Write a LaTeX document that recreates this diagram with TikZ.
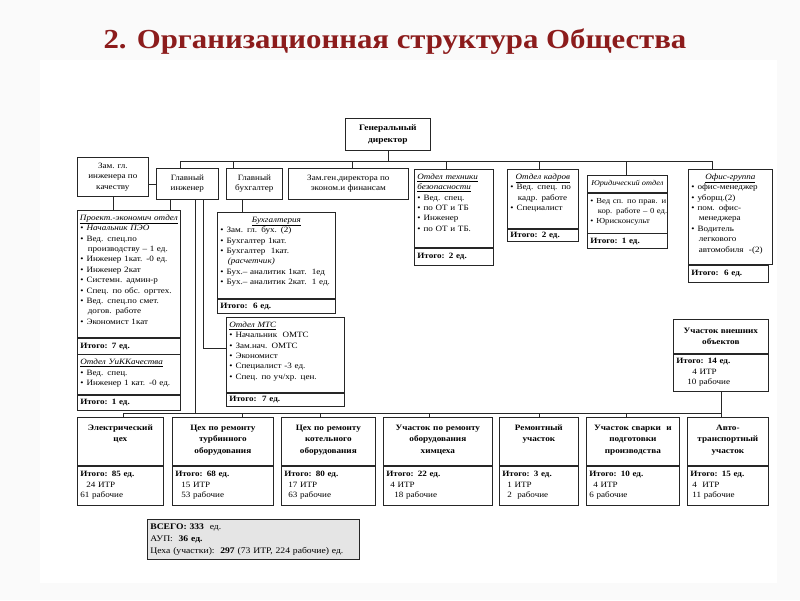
\documentclass[tikz,border=0pt]{standalone}
\usepackage{fontspec}
\setmainfont{Liberation Serif}[FakeStretch=1.12]
\usepackage{tikz}
\definecolor{titlered}{RGB}{140,28,28}
\newcommand{\ttl}[1]{\underline{\textit{#1}}}
\newcommand{\bul}{\textbullet\nobreak\hspace{3pt}}
\newcommand{\nxt}{\hspace*{7.5pt}}
\newcommand{\ctr}[1]{\makebox[\linewidth]{#1}}
\tikzset{
    box/.style={draw=black!85, rectangle, line width=.7pt, anchor=north west,
    	inner xsep=3pt, inner ysep=3pt, font=\fontsize{8.1}{10.4}\selectfont},
    head/.style={box, align=center},
    list/.style={box, align=left, text height=7pt},
    sum/.style={box, align=left, inner ysep=1pt},
    shop/.style={box, align=center, text height=10pt, text depth=32pt,
    	font=\fontsize{8.2}{11.5}\selectfont\bfseries},
    link/.style={line width=.7pt, draw=black!85}
}

\begin{document}
\begin{tikzpicture}[x=1pt, y=-1pt]
  \useasboundingbox (0,0) rectangle (800,600);
  \fill[gray!4] (0,0) rectangle (800,600);
  \fill[white] (40,60) rectangle (777,583);

  \node (title) [font=\fontsize{27.5}{30}\selectfont\bfseries, text=titlered] at (395,42) {2. Организационная структура Общества};

  \node (gd) [head, minimum width=85pt, minimum height=32pt, font=\fontsize{8.4}{12}\selectfont\bfseries] at (345,118) {Генеральный\\директор};
  \node (zgi) [head, minimum width=71pt, minimum height=39pt] at (77,157) {Зам. гл.\\инженера по\\качеству};
  \node (gi) [head, minimum width=62pt, minimum height=31pt] at (156,168) {Главный\\инженер};
  \node (gb) [head, minimum width=56pt, minimum height=31pt] at (226,168) {Главный\\бухгалтер};
  \node (zgd) [head, minimum width=120pt, minimum height=31pt] at (288,168) {Зам.ген.директора по\\эконом.и финансам};

  \node (otb) [list, text width=73pt, text depth=65pt] at (414,169) {\ttl{Отдел техники}\\\ttl{безопасности}\\\bul Вед. спец.\\\bul по ОТ и ТБ\\\bul Инженер\\\bul по ОТ и ТБ.};
  \node (otbs) [sum, text width=73pt, minimum height=17pt] at (otb.south west) {\textbf{Итого: 2 ед.}};

  \node (ok) [list, text width=65pt, text depth=46pt] at (507,169) {\ctr{\ttl{Отдел кадров}}\\\bul \mbox{Вед. спец. по}\\\nxt кадр. работе\\\bul Специалист};
  \node (oks) [sum, text width=65pt, minimum height=12pt] at (ok.south west) {\textbf{Итого: 2 ед.}};

  \node (jurh) [head, minimum width=80pt, minimum height=17pt, font=\fontsize{7.4}{10.4}\selectfont\itshape] at (587,175) {Юридический отдел};
  \node (jur) [list, text width=74pt, text depth=27pt, font=\fontsize{7.7}{10.4}\selectfont] at (jurh.south west) {\bul \mbox{Вед сп. по прав. и}\\\nxt \mbox{кор. работе – 0 ед.}\\\bul Юрисконсульт};
  \node (jurs) [sum, text width=74pt, minimum height=15pt] at (jur.south west) {\textbf{Итого: 1 ед.}};

  \node (og) [list, text width=78pt, text depth=82pt] at (688,169) {\ctr{\ttl{Офис-группа}}\\\bul офис-менеджер\\\bul уборщ.(2)\\\bul пом. офис-\\\nxt менеджера\\\bul Водитель\\\nxt легкового\\\nxt \mbox{автомобиля~~-(2)}};
  \node (ogs) [sum, text width=74pt, minimum height=17pt] at (og.south west) {\textbf{Итого:~~6 ед.}};

  \node (pe) [list, text width=97pt, text depth=114pt] at (77,210) {\ctr{\ttl{Проект.-экономич отдел}}\\\bul \textit{Начальник ПЭО}\\\bul Вед. спец.по\\\nxt \mbox{производству – 1 ед.}\\\bul \mbox{Инженер 1кат. -0 ед.}\\\bul Инженер 2кат\\\bul Системн. админ-р\\\bul \mbox{Спец. по обс. оргтех.}\\\bul \mbox{Вед. спец.по смет.}\\\nxt догов. работе\\\bul Экономист 1кат};
  \node (pes) [sum, text width=97pt, minimum height=16pt] at (pe.south west) {\textbf{Итого: 7 ед.}};
  \node (uk) [list, text width=97pt, text depth=27pt] at (pes.south west) {\ttl{Отдел УиККачества}\\\bul Вед. спец.\\\bul \mbox{Инженер 1 кат. -0 ед.}};
  \node (uks) [sum, text width=97pt, minimum height=15pt] at (uk.south west) {\textbf{Итого: 1 ед.}};

  \node (buh) [list, text width=112pt, text depth=73pt] at (217,212) {\ctr{\ttl{Бухгалтерия}}\\\bul Зам. гл. бух. (2)\\\bul Бухгалтер 1кат.\\\bul Бухгалтер~~1кат.\\\nxt\textit{(расчетчик)}\\\bul \mbox{Бух.– аналитик 1кат.~~1ед}\\\bul \mbox{Бух.– аналитик 2кат.~~1 ед.}};
  \node (buhs) [sum, text width=112pt, minimum height=14pt] at (buh.south west) {\textbf{Итого:~~6 ед.}};

  \node (mts) [list, text width=112pt, text depth=62pt] at (226,317) {\ttl{Отдел МТС}\\\bul Начальник~~ОМТС\\\bul Зам.нач. ОМТС\\\bul Экономист\\\bul Специалист -3 ед.\\\bul \mbox{Спец. по уч/хр. цен.}};
  \node (mtss) [sum, text width=112pt, minimum height=13pt] at (mts.south west) {\textbf{Итого:~~7 ед.}};

  \node (uvoh) [head, minimum width=95pt, minimum height=34pt, font=\fontsize{8.2}{11.5}\selectfont\bfseries] at (673,319) {Участок внешних\\объектов};
  \node (uvos) [sum, text width=89pt, minimum height=37pt] at (uvoh.south west) {\textbf{Итого: 14 ед.}\\\hspace*{16pt}4 ИТР\\\hspace*{11pt}10 рабочие};

  \node (ec) [shop, text width=80pt] at (77,417) {Электрический\\цех};
  \node (ecs) [sum, text width=80pt, minimum height=39pt] at (ec.south west) {\textbf{Итого: 85 ед.}\\\hspace*{6pt}24 ИТР\\61 рабочие};
  \node (ct) [shop, text width=95pt] at (172,417) {Цех по ремонту\\турбинного\\оборудования};
  \node (cts) [sum, text width=95pt, minimum height=39pt] at (ct.south west) {\textbf{Итого: 68 ед.}\\\hspace*{6pt}15 ИТР\\\hspace*{6pt}53 рабочие};
  \node (ck) [shop, text width=88pt] at (281,417) {Цех по ремонту\\котельного\\оборудования};
  \node (cks) [sum, text width=88pt, minimum height=39pt] at (ck.south west) {\textbf{Итого: 80 ед.}\\\hspace*{4pt}17 ИТР\\\hspace*{4pt}63 рабочие};
  \node (uh) [shop, text width=103pt] at (383,417) {Участок по ремонту\\оборудования\\химцеха};
  \node (uhs) [sum, text width=103pt, minimum height=39pt] at (uh.south west) {\textbf{Итого: 22 ед.}\\\hspace*{4pt}4 ИТР\\\hspace*{8pt}18 рабочие};
  \node (ru) [shop, text width=73pt] at (499,417) {Ремонтный\\участок};
  \node (rus) [sum, text width=73pt, minimum height=39pt] at (ru.south west) {\textbf{Итого: 3 ед.}\\\hspace*{5pt}1 ИТР\\\hspace*{5pt}2~~рабочие};
  \node (us) [shop, text width=87pt] at (586,417) {Участок сварки~~и\\подготовки\\производства};
  \node (uss) [sum, text width=87pt, minimum height=39pt] at (us.south west) {\textbf{Итого: 10 ед.}\\\hspace*{4pt}4 ИТР\\6 рабочие};
  \node (at) [shop, text width=75pt] at (687,417) {Авто-\\транспортный\\участок};
  \node (ats) [sum, text width=75pt, minimum height=39pt] at (at.south west) {\textbf{Итого: 15 ед.}\\\hspace*{2pt}4~~ИТР\\\hspace*{2pt}11 рабочие};

  \node (all) [box, fill=gray!20, text width=206pt, minimum height=40pt, align=left, font=\fontsize{8.6}{11.8}\selectfont] at (147,519) {\textbf{ВСЕГО: 333}~~ед.\\АУП:~~\textbf{36 ед.}\\Цеха (участки):~~\textbf{297} (73 ИТР, 224 рабочие) ед.};

  \coordinate (tbus) at (180,161);
  \coordinate (bbus) at (123,413);

  \draw[link] (gd.south) -- (gd.south |- tbus);
  \draw[link] (gi.north -| tbus) -- (tbus);
  \draw[link] ([xshift=7pt]gb.north west) |- (tbus);
  \draw[link] ([xshift=64pt]zgd.north west) |- (tbus);
  \draw[link] ([xshift=32pt]otb.north west) |- (tbus);
  \draw[link] ([xshift=32pt]ok.north west) |- (tbus);
  \draw[link] ([xshift=39pt]jurh.north west) |- (tbus);
  \draw[link] ([xshift=24pt]og.north west) |- (tbus);

  \draw[link] (gi.west) -- (gi.west -| zgi.east);
  \draw[link] (zgi.south) -- (zgi.south |- pe.north);
  \draw[link] ([xshift=14pt]gi.south west) -- ([xshift=93pt]pe.north west);
  \draw[link] ([xshift=47pt]gi.south west) |- ([yshift=6.5pt]mts.west);
  \draw[link] ([xshift=39pt]gi.south west) |- (bbus);
  \draw[link] ([xshift=16pt]gb.south west) -- ([xshift=25pt]buh.north west);

  \draw[link] (ec.north -| bbus) -- (bbus);
  \draw[link] ([xshift=70pt]ct.north west) |- (bbus);
  \draw[link] ([xshift=39pt]ck.north west) |- (bbus);
  \draw[link] ([xshift=46pt]uh.north west) |- (bbus);
  \draw[link] ([xshift=40pt]ru.north west) |- (bbus);
  \draw[link] ([xshift=40pt]us.north west) |- (bbus);
  \draw[link] (uvos.south) -- (uvos.south |- at.north);
  \draw[link] (uvos.south |- bbus) -- (bbus);
\end{tikzpicture}
\end{document}
